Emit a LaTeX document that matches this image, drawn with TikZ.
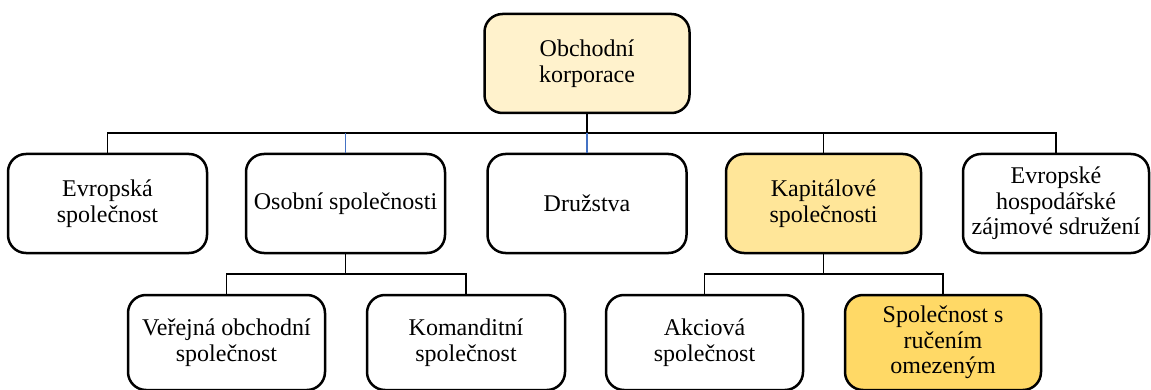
\documentclass[tikz,border=0pt]{standalone}
\usepackage{fontspec}
\setmainfont{Liberation Serif}
\definecolor{cream}{HTML}{FFF2CC}
\definecolor{gold1}{HTML}{FFE699}
\definecolor{gold2}{HTML}{FFD966}
\definecolor{linkblue}{HTML}{4472C4}
\tikzset{
  box/.style={draw=black, line width=2.5pt, rounded corners=18pt, align=center,
    inner sep=2pt, font=\fontsize{24}{25.5}\selectfont, fill=white},
  link/.style={draw=black, line width=1.1pt},
  bluelink/.style={draw=linkblue, line width=1.1pt},
}
\begin{document}
\begin{tikzpicture}[x=1pt,y=-1pt]
\useasboundingbox (0,0) rectangle (1151,390);
\clip (0,0) rectangle (1151,390);
% top
\node[box, fill=cream, minimum width=205pt, minimum height=99pt] (top) at (587,63.5) {Obchodní\\korporace};
% row 2
\node[box, minimum width=199pt, minimum height=99pt] (evs) at (107.5,203.5) {Evropská\\společnost};
\node[box, minimum width=199pt, minimum height=99pt] (oso) at (345.5,203.5) {Osobní společnosti};
\node[box, minimum width=199pt, minimum height=99pt] (dru) at (587,203.5) {Družstva};
\node[box, fill=gold1, minimum width=195pt, minimum height=99pt] (kap) at (823.5,203.5) {Kapitálové\\společnosti};
\node[box, minimum width=186pt, minimum height=99pt] (ehz) at (1056,203.5) {Evropské\\hospodářské\\zájmové sdružení};
% row 3
\node[box, minimum width=197pt, minimum height=95pt] (ver) at (226.5,342.5) {Veřejná obchodní\\společnost};
\node[box, minimum width=198pt, minimum height=95pt] (kom) at (466,342.5) {Komanditní\\společnost};
\node[box, minimum width=197pt, minimum height=95pt] (akc) at (704.5,342.5) {Akciová\\společnost};
\node[box, fill=gold2, minimum width=196pt, minimum height=95pt] (sro) at (943,342.5) {Společnost s\\ručením\\omezeným};
% connectors
\coordinate (b1) at (587,133);
\coordinate (b2) at (345.5,274);
\coordinate (b3) at (823.5,274);
\draw[link] (top.south) -- (b1);
\draw[link] (b1) -| (evs.north);
\draw[link] (b1) -| (kap.north);
\draw[link] (b1) -| (ehz.north);
\draw[link] (b1) -- (oso.north |- b1);
\draw[bluelink] (oso.north |- b1) -- (oso.north);
\draw[bluelink] (b1) -- (dru.north);
\draw[link] (oso.south) -- (b2);
\draw[link] (b2) -| (ver.north);
\draw[link] (b2) -| (kom.north);
\draw[link] (kap.south) -- (b3);
\draw[link] (b3) -| (akc.north);
\draw[link] (b3) -| (sro.north);
\end{tikzpicture}
\end{document}
